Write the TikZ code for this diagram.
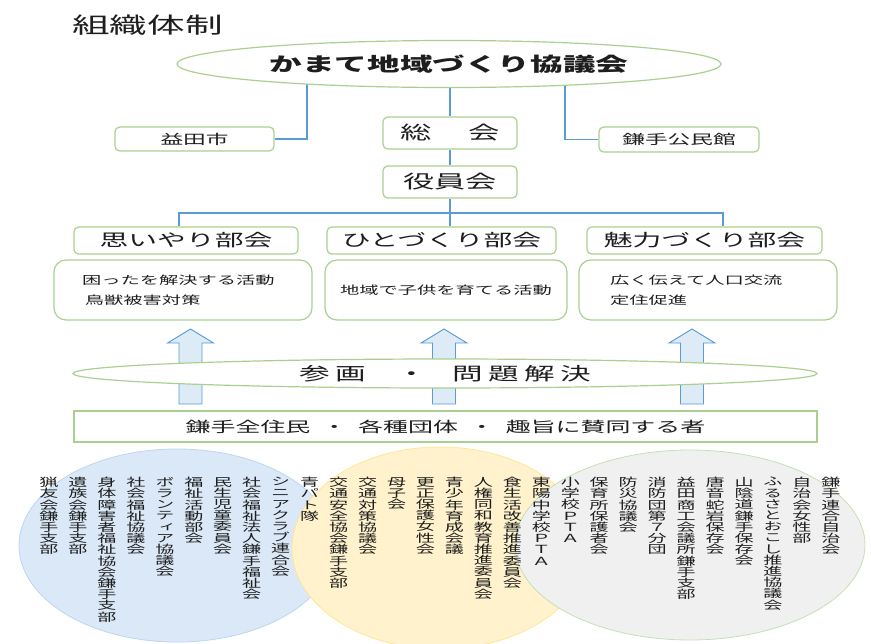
\documentclass[tikz,border=0pt]{standalone}
\usepackage{fontspec}
\newfontfamily\jp[FakeStretch=1.7]{Noto Sans CJK JP}
\newfontfamily\jpv[FakeStretch=1.7,RawFeature=+vert]{Noto Sans CJK JP}
\usetikzlibrary{shapes.geometric,backgrounds,calc}
\definecolor{gbord}{RGB}{169,208,142}
\definecolor{lblue}{RGB}{91,155,213}
\definecolor{afill}{RGB}{221,235,247}
\definecolor{efblue}{RGB}{218,232,247}
\definecolor{ebblue}{RGB}{189,215,238}
\definecolor{efyel}{RGB}{255,242,204}
\definecolor{ebyel}{RGB}{255,230,153}
\definecolor{efgray}{RGB}{240,240,240}
\definecolor{ebgray}{RGB}{197,224,180}
\definecolor{txt}{RGB}{30,30,30}
\begin{document}
\begin{tikzpicture}[x=0.75pt,y=-0.75pt,
  every node/.style={text=txt},
  box/.style={draw=gbord, line width=0.9pt, fill=white, rounded corners=3.5pt, inner sep=0pt, align=center},
  actbox/.style={draw=gbord, line width=0.9pt, fill=white, rounded corners=9pt, inner sep=0pt},
  conn/.style={draw=lblue, line width=1.3pt},
  uparrow/.style={draw=lblue, line width=0.7pt, fill=afill},
  col/.style={anchor=north, align=center, inner sep=0pt, font=\jpv\fontsize{8.4}{8.4}\selectfont},
]
\path[use as bounding box] (0,0) rectangle (871,643);
\clip (0,0) rectangle (871,643);

% title
\node[font=\jp\fontsize{16.6}{16.6}\selectfont, inner sep=0pt] (title) at (147.5,25) {組織体制};

% top ellipse
\node[ellipse, draw=gbord, line width=0.9pt, fill=white, minimum width=544*0.75pt, minimum height=47*0.75pt, inner sep=0pt,
      font=\jp\bfseries\fontsize{14.4}{14.4}\selectfont] (top) at (449,64) {かまて地域づくり協議会};

% second row
\node[box, minimum width=159*0.75pt, minimum height=24*0.75pt, font=\jp\fontsize{10}{10}\selectfont] (masuda) at (194.5,139) {益田市};
\node[box, minimum width=134*0.75pt, minimum height=32*0.75pt, font=\jp\fontsize{13.8}{13.8}\selectfont] (soukai) at (450,133) {総\hspace{27.5pt}会};
\node[box, minimum width=160*0.75pt, minimum height=25*0.75pt, font=\jp\fontsize{10}{10}\selectfont] (kouminkan) at (679,139.5) {鎌手公民館};
\node[box, minimum width=134*0.75pt, minimum height=32*0.75pt, font=\jp\fontsize{13.8}{13.8}\selectfont] (yakuin) at (450,182) {役員会};

% bukai
\node[box, minimum width=224*0.75pt, minimum height=27*0.75pt, font=\jp\fontsize{12.7}{12.7}\selectfont] (bukai1) at (186,240.5) {思いやり部会};
\node[box, minimum width=229*0.75pt, minimum height=27*0.75pt, font=\jp\fontsize{12.7}{12.7}\selectfont] (bukai2) at (441.5,240.5) {ひとづくり部会};
\node[box, minimum width=235*0.75pt, minimum height=27*0.75pt, font=\jp\fontsize{12.7}{12.7}\selectfont] (bukai3) at (704.5,240.5) {魅力づくり部会};

% activity boxes
\node[actbox, minimum width=258*0.75pt, minimum height=60*0.75pt, text width=202*0.75pt, align=left,
      font=\jp\fontsize{8.5}{15.4}\selectfont] (act1) at (183,290) {困ったを解決する活動\\\hspace*{2.2pt}鳥獣被害対策};
\node[actbox, minimum width=242*0.75pt, minimum height=60*0.75pt, align=center,
      font=\jp\fontsize{8.5}{15.4}\selectfont] (act2) at (446,290) {地域で子供を育てる活動};
\node[actbox, minimum width=258*0.75pt, minimum height=60*0.75pt, text width=196*0.75pt, align=left,
      font=\jp\fontsize{8.5}{15.4}\selectfont] (act3) at (708,290) {広く伝えて人口交流\\定住促進};

% connectors
\coordinate (busL) at (179,213);
\coordinate (busR) at (723,213);
\begin{scope}[on background layer]
  \draw[conn] (masuda.east) -| ($(top.center)+(-142,0)$);
  \draw[conn] (kouminkan.west) -| ($(top.center)+(116,0)$);
  \draw[conn] (top.center -| soukai.north) -- (soukai.north);
  \draw[conn] (soukai.south) -- (yakuin.north);
  \draw[conn] (bukai1.north -| busL) -- (busL) -- (busR) -- (bukai3.north -| busR);
  \draw[conn] (yakuin.south) -- (bukai2.north -| yakuin.south);
\end{scope}

% up arrows
\foreach \ax in {190.5,444,692}{
  \filldraw[uparrow] (\ax-11.5,404) -- (\ax-11.5,343) -- (\ax-23,343) -- (\ax,329) -- (\ax+23,343) -- (\ax+11.5,343) -- (\ax+11.5,404) -- cycle;
}

% participation ellipse
\node[ellipse, draw=gbord, line width=0.9pt, fill=white, minimum width=744*0.75pt, minimum height=29*0.75pt, inner sep=0pt,
      font=\jp\fontsize{13.5}{13.5}\selectfont] (sankaku) at (445,373.5)
      {参\hspace{4pt}画\hspace{23pt}・\hspace{19pt}問\hspace{4pt}題\hspace{4pt}解\hspace{4pt}決};

% residents box
\node[draw=gbord, line width=0.9pt, fill=white, minimum width=743*0.75pt, minimum height=31*0.75pt, inner sep=0pt,
      font=\jp\fontsize{11}{11}\selectfont] (juumin) at (445.5,426.5)
      {鎌手全住民\hspace{8.6pt}・\hspace{8.6pt}各種団体\hspace{8.6pt}・\hspace{8.6pt}趣旨に賛同する者};

% bottom ellipses
\filldraw[fill=efblue, draw=ebblue, line width=0.6pt] (177,545.5) ellipse [x radius=118.5pt, y radius=72.4pt];
\filldraw[fill=efyel, draw=ebyel, line width=0.6pt] (440,548) ellipse [x radius=111pt, y radius=75.75pt];
\filldraw[fill=efgray, draw=ebgray, line width=0.6pt] (690,545) ellipse [x radius=131.25pt, y radius=71.25pt];

% vertical columns
\foreach \t [count=\i from 0] in {
 {猟\\友\\会\\鎌\\手\\支\\部},
 {遺\\族\\会\\鎌\\手\\支\\部},
 {身\\体\\障\\害\\者\\福\\祉\\協\\会\\鎌\\手\\支\\部},
 {社\\会\\福\\祉\\協\\議\\会},
 {ボ\\ラ\\ン\\テ\\ィ\\ア\\協\\議\\会},
 {福\\祉\\活\\動\\部\\会},
 {民\\生\\児\\童\\委\\員\\会},
 {社\\会\\福\\祉\\法\\人\\鎌\\手\\福\\祉\\会},
 {シ\\ニ\\ア\\ク\\ラ\\ブ\\連\\合\\会},
 {青\\パ\\ト\\隊},
 {交\\通\\安\\全\\協\\会\\鎌\\手\\支\\部},
 {交\\通\\対\\策\\協\\議\\会},
 {母\\子\\会},
 {更\\正\\保\\護\\女\\性\\会},
 {青\\少\\年\\育\\成\\会\\議},
 {人\\権\\同\\和\\教\\育\\推\\進\\委\\員\\会},
 {食\\生\\活\\改\\善\\推\\進\\委\\員\\会},
 {東\\陽\\中\\学\\校\\Ｐ\\Ｔ\\Ａ},
 {小\\学\\校\\Ｐ\\Ｔ\\Ａ},
 {保\\育\\所\\保\\護\\者\\会},
 {防\\災\\協\\議\\会},
 {消\\防\\団\\第\\７\\分\\団},
 {益\\田\\商\\工\\会\\議\\所\\鎌\\手\\支\\部},
 {唐\\音\\蛇\\岩\\保\\存\\会},
 {山\\陰\\道\\鎌\\手\\保\\存\\会},
 {ふ\\る\\さ\\と\\お\\こ\\し\\推\\進\\協\\議\\会},
 {自\\治\\会\\女\\性\\部},
 {鎌\\手\\連\\合\\自\\治\\会}}{
  \node[col] (c\i) at ({49+28.96*\i},477) {\t};
}
\end{tikzpicture}
\end{document}
